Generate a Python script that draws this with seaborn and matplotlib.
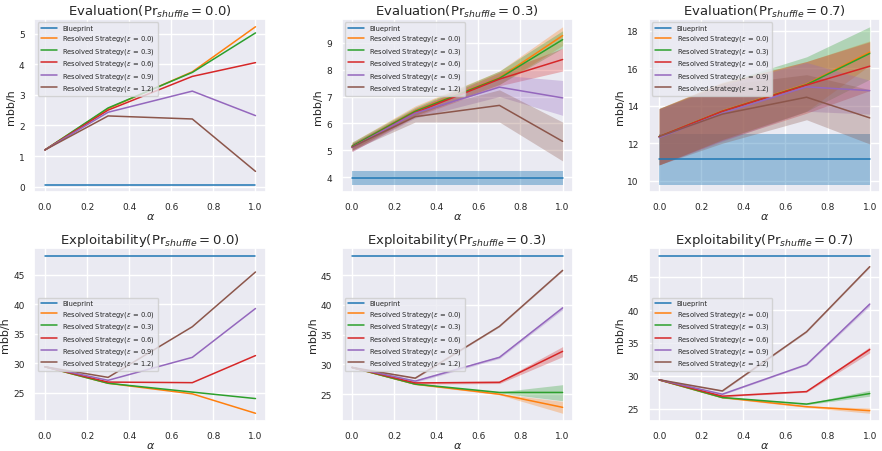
import numpy as np
import pandas as pd
import seaborn as sns
import matplotlib.pyplot as plt

alpha_x = [0.0, 0.3, 0.7, 1.0]
eps_list = ['0.0', '0.3', '0.6', '0.9', '1.2']
shuffle = ['0.0', '0.3', '0.7']

# Evaluation, Pr_shuffle = 0.0 (no spread)
eval00_bp = [0.07, 0.07, 0.07, 0.07]
eval00 = [[1.2, 2.55, 3.75, 5.22],
          [1.2, 2.57, 3.73, 5.02],
          [1.2, 2.50, 3.60, 4.05],
          [1.2, 2.43, 3.12, 2.32],
          [1.2, 2.31, 2.21, 0.50]]

# Evaluation, Pr_shuffle = 0.3
eval03_bp = [3.97, 3.97, 3.97, 3.97]
eval03_bp_lo = [3.72, 3.72, 3.72, 3.72]
eval03_bp_hi = [4.22, 4.22, 4.22, 4.22]
eval03 = [[5.15, 6.47, 7.70, 9.27],
          [5.15, 6.45, 7.68, 9.12],
          [5.10, 6.40, 7.65, 8.38],
          [5.10, 6.38, 7.35, 6.95],
          [5.12, 6.25, 6.67, 5.33]]
eval03_lo = [[5.00, 6.30, 7.45, 8.90],
             [5.00, 6.30, 7.45, 8.80],
             [4.95, 6.25, 7.40, 7.95],
             [4.95, 6.20, 7.00, 6.30],
             [5.00, 6.05, 6.05, 4.60]]
eval03_hi = [[5.30, 6.65, 7.95, 9.60],
             [5.30, 6.60, 7.95, 9.45],
             [5.25, 6.55, 7.90, 8.80],
             [5.25, 6.55, 7.80, 7.60],
             [5.25, 6.45, 7.25, 6.05]]

# Evaluation, Pr_shuffle = 0.7
eval07_bp = [11.15, 11.15, 11.15, 11.15]
eval07_bp_lo = [9.8, 9.8, 9.8, 9.8]
eval07_bp_hi = [12.5, 12.5, 12.5, 12.5]
eval07 = [[12.35, 13.72, 15.15, 16.85],
          [12.35, 13.70, 15.12, 16.78],
          [12.35, 13.70, 15.10, 16.10],
          [12.30, 13.60, 15.00, 14.80],
          [12.35, 13.55, 14.45, 13.35]]
eval07_lo = [[10.85, 12.20, 13.70, 16.15],
             [10.85, 12.20, 13.70, 15.40],
             [10.85, 12.15, 13.60, 14.80],
             [10.85, 12.10, 13.70, 13.55],
             [10.85, 12.00, 13.25, 11.96]]
eval07_hi = [[13.85, 15.25, 16.35, 17.45],
             [13.85, 15.20, 16.60, 18.20],
             [13.85, 15.20, 16.35, 17.40],
             [13.80, 15.10, 16.30, 15.35],
             [13.85, 15.10, 15.65, 14.85]]

# Exploitability
expl_bp = [48.3, 48.3, 48.3, 48.3]
expl00 = [[29.4, 26.6, 24.8, 21.5],
          [29.4, 26.6, 25.1, 24.0],
          [29.4, 26.8, 26.7, 31.3],
          [29.4, 27.1, 31.0, 39.3],
          [29.4, 27.6, 36.2, 45.5]]
expl03 = [[29.5, 26.7, 25.0, 22.8],
          [29.5, 26.7, 25.3, 25.3],
          [29.5, 26.9, 27.0, 32.2],
          [29.5, 27.2, 31.2, 39.5],
          [29.5, 27.7, 36.4, 45.8]]
expl03_lo = [[29.4, 26.6, 24.9, 21.8],
             [29.4, 26.6, 25.2, 23.9],
             [29.4, 26.7, 26.8, 31.3],
             [29.4, 27.0, 31.0, 39.2],
             [29.4, 27.6, 36.3, 45.7]]
expl03_hi = [[29.6, 26.8, 25.1, 23.8],
             [29.6, 26.8, 25.4, 26.6],
             [29.6, 27.1, 27.2, 33.0],
             [29.6, 27.4, 31.4, 39.8],
             [29.6, 27.8, 36.5, 45.9]]
expl07 = [[29.4, 26.7, 25.3, 24.7],
          [29.4, 26.7, 25.7, 27.3],
          [29.4, 26.9, 27.6, 34.0],
          [29.4, 27.2, 31.7, 40.9],
          [29.4, 27.7, 36.7, 46.6]]
expl07_lo = [[29.3, 26.6, 25.2, 24.3],
             [29.3, 26.6, 25.6, 26.9],
             [29.3, 26.8, 27.5, 33.5],
             [29.3, 27.1, 31.6, 40.6],
             [29.3, 27.6, 36.6, 46.5]]
expl07_hi = [[29.5, 26.8, 25.4, 25.1],
             [29.5, 26.8, 25.8, 27.8],
             [29.5, 27.0, 27.7, 34.4],
             [29.5, 27.3, 31.8, 41.2],
             [29.5, 27.8, 36.8, 46.7]]

sns.set_theme(style='darkgrid', palette='tab10')
pal = sns.color_palette('tab10')

fig, axes = plt.subplots(2, 3, figsize=(8.82, 4.52), dpi=100)
fig.subplots_adjust(left=0.039, right=0.998, top=0.956, bottom=0.066,
                    wspace=0.326, hspace=0.318)

panels = [
    (axes[0, 0], 'Evaluation', shuffle[0], eval00_bp, None, None, eval00, None, None, 'upper left'),
    (axes[0, 1], 'Evaluation', shuffle[1], eval03_bp, eval03_bp_lo, eval03_bp_hi, eval03, eval03_lo, eval03_hi, 'upper left'),
    (axes[0, 2], 'Evaluation', shuffle[2], eval07_bp, eval07_bp_lo, eval07_bp_hi, eval07, eval07_lo, eval07_hi, 'upper left'),
    (axes[1, 0], 'Exploitability', shuffle[0], expl_bp, None, None, expl00, None, None, 'center left'),
    (axes[1, 1], 'Exploitability', shuffle[1], expl_bp, None, None, expl03, expl03_lo, expl03_hi, 'center left'),
    (axes[1, 2], 'Exploitability', shuffle[2], expl_bp, None, None, expl07, expl07_lo, expl07_hi, 'center left'),
]

for ax, name, pr, bp, bp_lo, bp_hi, ys, los, his, loc in panels:
    sns.lineplot(x=alpha_x, y=bp, ax=ax, color=pal[0], lw=1.1, label='Blueprint')
    if bp_lo is not None:
        ax.fill_between(alpha_x, bp_lo, bp_hi, color=pal[0], alpha=0.4, lw=0)
    for i, e in enumerate(eps_list):
        sns.lineplot(x=alpha_x, y=ys[i], ax=ax, color=pal[i + 1], lw=1.1,
                     label=r'Resolved Strategy($\varepsilon$ = ' + e + ')')
        if los is not None:
            ax.fill_between(alpha_x, los[i], his[i], color=pal[i + 1], alpha=0.3, lw=0)
    ax.set_title(name + r'($\mathrm{Pr}_{shuffle} = ' + pr + '$)', fontsize=9.5, pad=3)
    ax.set_xlabel(r'$\alpha$', fontsize=8, labelpad=0)
    ax.set_ylabel('mbb/h', fontsize=8, labelpad=2)
    ax.set_xticks([0.0, 0.2, 0.4, 0.6, 0.8, 1.0])
    ax.tick_params(labelsize=6.5, pad=1)
    ax.legend(loc=loc, fontsize=4.9, handlelength=2.4, borderpad=0.4, labelspacing=0.35)

plt.savefig('out.png', dpi=100)
